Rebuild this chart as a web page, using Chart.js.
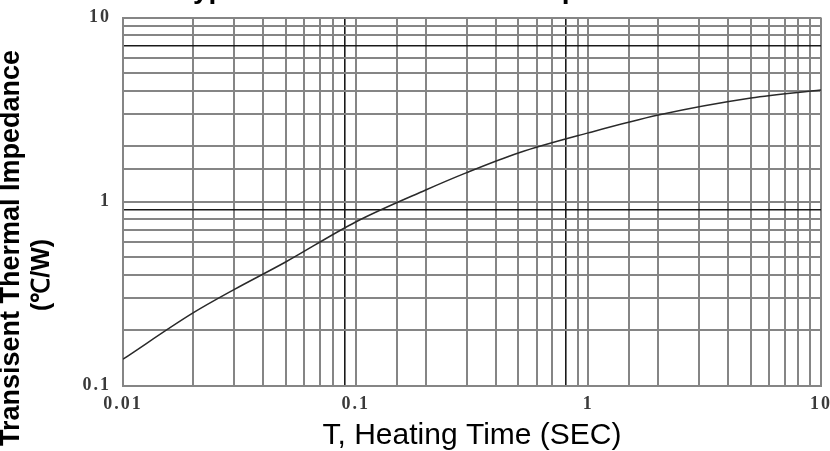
<!DOCTYPE html>
<html>
<head>
<meta charset="utf-8">
<script src="https://cdn.jsdelivr.net/npm/chart.js@4.4.0/dist/chart.umd.min.js"></script>
<style>
  html, body { margin: 0; padding: 0; background: #fff; }
  #wrap { width: 830px; height: 451px; position: relative; }
</style>
</head>
<body>
<div id="wrap"><canvas id="chart"></canvas></div>
<script>
// values
const heatingTime = [0.01, 0.02, 0.03, 0.05, 0.1, 0.2, 0.3, 0.5, 1, 2, 5, 10]
const impedance = [0.139, 0.248, 0.332, 0.469, 0.774, 1.155, 1.435, 1.835, 2.36, 2.95, 3.65, 4.04]

const xLabels = [0.01, 0.1, 1, 10]
const yLabels = [0.1, 1, 10]
// the scanned grid has a few darker lines
const xDarkLines = [0.09, 0.8]
const yDarkLines = [0.9, 7]

const chartTitle = 'Typical Transient Thermal Impedance'
const xTitle = 'T, Heating Time (SEC)'
const yTitle = ['Transisent Thermal Impedance', '(℃/W)']

const near = (list, v) => list.some(d => Math.abs(d - v) < 1e-9)

function labelOf(list) {
  return v => near(list, v) ? String(v) : ''
}

function gridColor(dark) {
  return ctx => near(dark, ctx.tick.value) ? '#1a1a1a' : '#858585'
}
function gridWidth(dark) {
  return ctx => near(dark, ctx.tick.value) ? 1.6 : 2
}

// tick labels in the scan are a bit spaced out
const spacing = {
  id: 'spacing',
  beforeDraw(chart) { chart.ctx.letterSpacing = '2px' }
}

// titles drawn by hand so they sit where the scan has them
const titles = {
  id: 'titles',
  afterDraw(chart) {
    const c = chart.ctx
    c.save()
    c.letterSpacing = '0px'
    c.fillStyle = '#000'
    c.font = 'bold 28px "Liberation Sans", Arial, sans-serif'
    c.textAlign = 'left'
    c.textBaseline = 'alphabetic'
    c.fillText(chartTitle, 178, -2)

    c.font = '30px "Liberation Sans", Arial, sans-serif'
    c.textAlign = 'center'
    c.textBaseline = 'middle'
    c.fillText(xTitle, 472, 436)

    c.save()
    c.translate(12, 248)
    c.rotate(-Math.PI / 2)
    c.font = 'bold 27px "Liberation Sans", Arial, sans-serif'
    c.fillText(yTitle[0], 0, 0)
    c.restore()
    c.save()
    c.translate(42, 275)
    c.rotate(-Math.PI / 2)
    c.font = 'bold 25px "Liberation Sans", Arial, sans-serif'
    c.fillText(yTitle[1], 0, 0)
    c.restore()
    c.restore()
  }
}

const tickFont = { family: '"Liberation Serif", "Times New Roman", serif', size: 18, weight: 'bold' }

new Chart(document.getElementById('chart'), {
  type: 'line',
  data: {
    datasets: [{
      data: heatingTime.map((t, i) => ({ x: t, y: impedance[i] })),
      borderColor: '#2a2a2a',
      borderWidth: 1.5,
      pointRadius: 0,
      cubicInterpolationMode: 'monotone',
      fill: false
    }]
  },
  options: {
    responsive: true,
    maintainAspectRatio: false,
    animation: false,
    layout: { padding: { top: 17.5, right: 9, left: 0, bottom: 0 } },
    plugins: { legend: { display: false }, tooltip: { enabled: false } },
    scales: {
      x: {
        type: 'logarithmic',
        min: 0.01,
        max: 10,
        afterFit: s => { s.height = 65.5; s.paddingLeft = 0; s.paddingRight = 0 },
        border: { color: '#858585', width: 2 },
        grid: { color: gridColor(xDarkLines), lineWidth: gridWidth(xDarkLines), drawTicks: false },
        ticks: {
          autoSkip: false,
          maxRotation: 0,
          padding: 8,
          color: '#3a3a3a',
          font: tickFont,
          callback: labelOf(xLabels)
        }
      },
      y: {
        type: 'logarithmic',
        min: 0.1,
        max: 10,
        afterFit: s => { s.width = 123; s.paddingTop = 0; s.paddingBottom = 0 },
        border: { color: '#858585', width: 2 },
        grid: { color: gridColor(yDarkLines), lineWidth: gridWidth(yDarkLines), drawTicks: false },
        ticks: {
          autoSkip: false,
          padding: 12,
          color: '#3a3a3a',
          font: tickFont,
          callback: labelOf(yLabels)
        }
      }
    }
  },
  plugins: [spacing, titles]
})
</script>
</body>
</html>
